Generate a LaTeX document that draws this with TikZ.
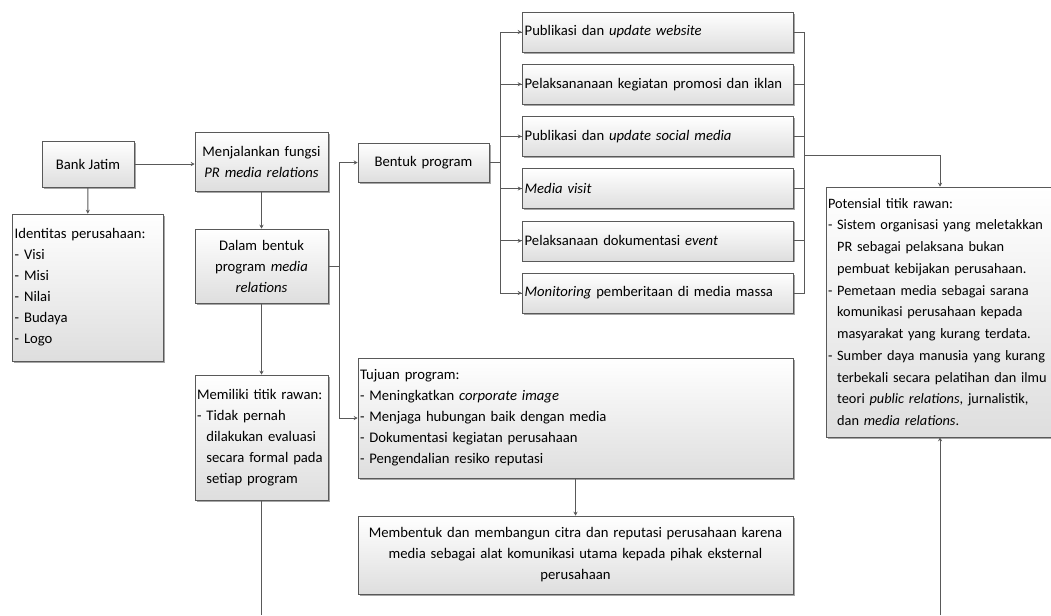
\documentclass[tikz,border=0pt]{standalone}
\usepackage{fontspec}
\setmainfont{Carlito}
\definecolor{lnGray}{RGB}{89,89,89}
\definecolor{boxBot}{RGB}{222,222,222}
\usetikzlibrary{arrows.meta,positioning,shadows}
\newcommand{\indt}{\hphantom{-\ }}
\tikzset{
  box/.style={draw=lnGray, top color=white, bottom color=boxBot, inner sep=2pt,
    drop shadow={shadow xshift=1.2pt, shadow yshift=-1.2pt, fill=black, opacity=0.35},
    font=\fontsize{11}{15.75}\selectfont, align=center},
  lbox/.style={box, align=left},
  line/.style={draw=lnGray, line width=0.7pt},
  arr/.style={line, -{Stealth[length=3pt,width=3pt]}}
}

\begin{document}
\begin{tikzpicture}[x=0.75pt, y=-0.75pt]
  \useasboundingbox (0,0) rectangle (1051,615);

  %% left column
  \node[box, minimum width=69pt, minimum height=34.5pt] (bank) at (88,164) {Bank Jatim};
  \node[lbox, text width=109.25pt, minimum height=110.25pt] (ident) at (87.5,287.5)
    {Identitas perusahaan:\\- Visi\\- Misi\\- Nilai\\- Budaya\\- Logo};

  %% middle column
  \node[box, text width=95.75pt, minimum height=44.25pt] (menj) at (261.5,161.5)
    {Menjalankan fungsi\\\textit{PR media relations}};
  \node[box, text width=95.75pt, minimum height=55.5pt] (dalam) at (261.5,266)
    {Dalam bentuk\\program \textit{media}\\\textit{relations}};
  \node[lbox, text width=96.75pt, inner xsep=1.5pt, minimum height=93.75pt] (rawan) at (261.5,437.5)
    {Memiliki titik rawan:\\- Tidak pernah\\\indt dilakukan evaluasi\\\indt secara formal pada\\\indt setiap program};

  %% program
  \node[box, text width=94.25pt, minimum height=29.25pt] (bentuk) at (423.5,162.5) {Bentuk program};

  %% six kinds of program
  \foreach \i/\txt [count=\n from 0] in {pa/{Publikasi dan \textit{update website}},
      pb/{Pelaksananaan kegiatan promosi dan iklan},
      pc/{Publikasi dan \textit{update social media}},
      pd/{\textit{Media visit}},
      pe/{Pelaksanaan dokumentasi \textit{event}},
      pf/{\textit{Monitoring} pemberitaan di media massa}}
    \node[lbox, text width=199.25pt, minimum height=30pt] (\i) at (657.5,32+52.2*\n) {\txt};

  \node[lbox, text width=323.25pt, inner xsep=1.5pt, minimum height=90pt] (tujuan) at (575.5,418)
    {Tujuan program:\\- Meningkatkan \textit{corporate image}\\- Menjaga hubungan baik dengan media\\- Dokumentasi kegiatan perusahaan\\- Pengendalian resiko reputasi};
  \node[box, text width=322.25pt, minimum height=58.5pt] (citra) at (575.5,555)
    {Membentuk dan membangun citra dan reputasi perusahaan karena\\media sebagai alat komunikasi utama kepada pihak eksternal\\perusahaan};

  %% right column (box runs past the right edge)
  \node[lbox, text width=171pt, inner xsep=1.5pt, minimum height=187.5pt,
    font=\fontsize{10.75}{16.3}\selectfont] (potensi) at (942,312)
    {Potensial titik rawan:\\- Sistem organisasi yang meletakkan\\\indt PR sebagai pelaksana bukan\\\indt pembuat kebijakan perusahaan.\\- Pemetaan media sebagai sarana\\\indt komunikasi perusahaan kepada\\\indt masyarakat yang kurang terdata.\\- Sumber daya manusia yang kurang\\\indt terbekali secara pelatihan dan ilmu\\\indt teori \textit{public relations}, jurnalistik,\\\indt dan \textit{media relations}.};

  %% junctions
  \coordinate (jl) at (339,266);
  \coordinate (jr) at (500,162.5);
  \coordinate (jo) at (804,155);
  \coordinate (bl) at (261.5,615);
  \coordinate (br) at (940,615);

  %% connectors
  \draw[arr] (bank.east) -- (bank.east -| menj.west);
  \draw[arr] (bank) -- (ident);
  \draw[arr] (menj) -- (dalam);
  \draw[arr] (dalam) -- (rawan);
  \draw[line] (rawan.south) -- (bl);
  \draw[line] (dalam.east) -- (jl);
  \draw[arr] (jl) |- (bentuk.west);
  \draw[arr] (jl) |- (tujuan.west);
  \draw[line] (bentuk.east) -- (jr);
  \foreach \i in {pa,pb,pc,pd,pe,pf}{
    \draw[line] (jr) |- (\i.west);
    \draw[arr] (jr |- \i.west) -- (\i.west);
    \draw[line] (\i.east) -| (jo);
  }
  \draw[arr] (jo) -| (br |- potensi.north);
  \draw[arr] (br) -- (br |- potensi.south);
  \draw[arr] (tujuan) -- (citra);
\end{tikzpicture}
\end{document}
